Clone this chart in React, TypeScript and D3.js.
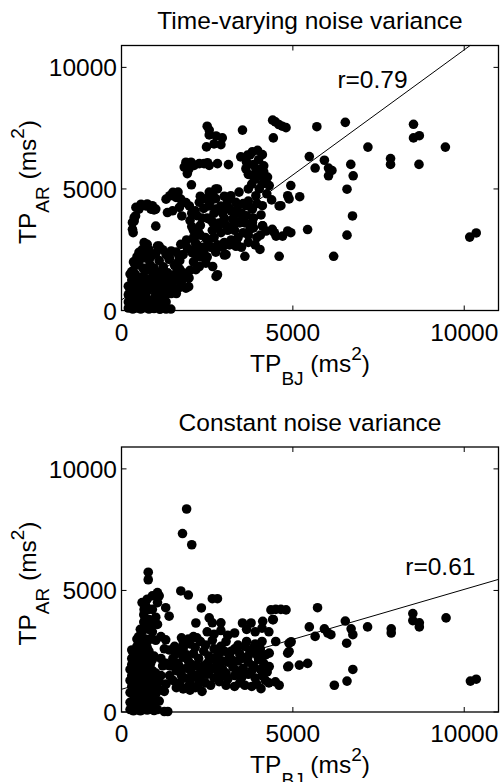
import React, { useEffect, useRef } from "react";
import * as d3 from "d3";

// TP_BJ vs TP_AR (ms^2)
const xTicks = [0, 5000, 10000];
const yTicks = [0, 5000, 10000];

const titles = ["Time-varying noise variance", "Constant noise variance"];
const rLabels = ["r=0.79", "r=0.61"];
const rAnchors: [number, number][] = [[6300, 9170], [8280, 5650]];
const fitIntercepts = [432, 934];
const fitSlopes = [1.029, 0.411];

const varyingPoints: [number, number][] = [
  // sparse right side
  [5700, 7560], [6530, 7740], [8520, 7660], [8520, 7100], [8690, 7190], [9450, 6720], [7190, 6720],
  [5480, 6330], [5920, 6180], [5650, 5860], [6040, 5860], [6140, 5760], [6040, 5540], [6690, 6010],
  [6760, 5540], [7850, 6250], [7850, 6010], [8680, 6010], [6580, 4990], [4940, 5140], [4890, 4590],
  [5200, 4680], [6740, 3890], [4940, 3200], [5430, 3330], [6580, 3100], [6190, 2230], [10160, 3020],
  [10350, 3190], [4600, 2230],
  // upper arc and top cluster
  [4410, 7830], [4490, 7760], [4590, 7650], [4690, 7580], [4800, 7520], [4430, 7100], [3530, 7420],
  [2500, 7580], [2560, 7420], [2560, 7220], [2760, 7180], [2940, 7100], [2480, 6730], [2700, 6850], [2900, 6820],
  [1830, 5900], [1880, 6100], [1970, 5830], [2030, 6100], [2120, 5970], [2270, 6040], [2410, 6040],
  [2510, 6080], [2560, 5970], [2800, 6040], [3120, 6000], [1920, 5630], [2040, 5170], [2800, 5000],
  // upper-middle cluster
  [3480, 6320], [3680, 6390], [3820, 6530], [3970, 6590], [4110, 6410], [3630, 5830], [3820, 5550],
  [3920, 5830], [4050, 5700], [4150, 5950], [4260, 5490], [4310, 5140], [4020, 5000], [3920, 4720],
  [4110, 4310], [3820, 4170], [3630, 4310], [3430, 4870], [3340, 4450], [3190, 4720], [3040, 4310],
  [4180, 5350], [4240, 4800], [4380, 4550], [4850, 4720], [4650, 4310], [4850, 3270], [4700, 3060],
  [4400, 3340], [4120, 3480], [4510, 3060], [4460, 3200], [4220, 3270], [4070, 3930], [4600, 4300],
  [4040, 2510], [3600, 2230], [3000, 2280], [3340, 2640], [3050, 2300],
  [3700, 5000], [3800, 5200], [3900, 5400], [4000, 5550], [4100, 5200], [3700, 5600], [3850, 6000],
  [4000, 6200], [4150, 5700], [3650, 6100], [3750, 6400],
  // main blob
  [2750, 5000], [2560, 4870], [2460, 4590], [2270, 4450], [2750, 4170], [2560, 3760], [2950, 3620],
  [3240, 3760], [3530, 3760], [3820, 3620], [4110, 3480], [2000, 3700], [2100, 3300], [2200, 3900],
  [2300, 3500], [2400, 4200], [2500, 3800], [2600, 4500], [2650, 3300], [2700, 4000], [2850, 3600],
  [2900, 4300], [3000, 3800], [3100, 4500], [3200, 4100], [3300, 3700], [3400, 4300], [3500, 4000],
  [3600, 3600], [3700, 4500], [3800, 4200], [1900, 2900], [2000, 2500], [2100, 3000], [2200, 2700],
  [2300, 3100], [2400, 2400], [2500, 2900], [2600, 2600], [2700, 3000], [2800, 2700], [2900, 3200],
  [3000, 2800], [3100, 3300], [3200, 2900], [3300, 3300], [3400, 3000], [3550, 3200], [3700, 3100],
  [3850, 3400], [3950, 3000],
  [2050, 3450], [2150, 4100], [2250, 3200], [2350, 3800], [2450, 3000], [2550, 4300], [2650, 3650],
  [2750, 4600], [2800, 3400], [2950, 4000], [3050, 3500], [3150, 4200], [3250, 3450], [3350, 4000],
  [3450, 3600], [3550, 4400], [3650, 3900], [3750, 3350], [3850, 3800], [3950, 4400], [2150, 2800],
  [2350, 2600], [2550, 2700], [2750, 2400], [2950, 2600], [3150, 2700], [3350, 2800], [3500, 2600],
  [3700, 2800], [3900, 2700], [4050, 3100], [2050, 4000], [2300, 4700], [2650, 4800], [3000, 4700],
  // lower middle
  [1880, 1400], [1960, 980], [2660, 1810], [2800, 1470], [2760, 1400], [2170, 1680], [1680, 2230],
  [2460, 1950], [2270, 1810], [2000, 1650], [2100, 2000], [2300, 2200], [2500, 2200], [2200, 2400],
  // left-middle cluster
  [1300, 4580], [1410, 4720], [1590, 4650], [1730, 4580], [1880, 4440], [1980, 4300], [1340, 4030],
  [1490, 4100], [1690, 4240], [1760, 3890], [1500, 4860], [1650, 4870],
  // left column
  [420, 4240], [570, 4370], [710, 4300], [860, 4170], [950, 4140], [370, 3820], [370, 3680],
  [320, 3340], [340, 3200], [1000, 3470], [510, 4170], [750, 4380], [900, 4310], [1000, 4170],
  [410, 3890], [320, 3620], [1050, 2650], [660, 2790], [610, 2510], [800, 2510], [750, 2720],
  [1100, 2650], [510, 2390], [1730, 2720], [1920, 2580], [2070, 2370], [2215, 2230], [1390, 2100],
  [1630, 1960], [1970, 1340], [1880, 920],
  // lower-left blob
  [200, 100], [330, 60], [450, 100], [560, 60], [680, 120], [800, 60], [950, 80], [1120, 50], [1300, 60], [1440, 60],
  [200, 350], [300, 450], [400, 300], [500, 500], [620, 350], [720, 550], [850, 400], [980, 550], [1150, 450], [1300, 350],
  [250, 800], [350, 650], [450, 950], [550, 750], [650, 1000], [750, 800], [870, 1100], [980, 850],
  [1080, 1050], [1250, 800], [1400, 1000], [1550, 900],
  [300, 1250], [400, 1500], [500, 1200], [620, 1400], [720, 1650], [830, 1300], [930, 1550],
  [1050, 1300], [1150, 1600], [1250, 1350], [1350, 1550], [1500, 1350], [1600, 1550],
  [400, 1850], [520, 2050], [620, 1750], [720, 2150], [830, 1900], [950, 1750], [1100, 2050],
  [1220, 1800], [1400, 2150], [1550, 1850], [1700, 2050],
  [250, 550], [350, 250], [550, 300], [700, 250], [900, 200], [1050, 250], [1200, 200], [300, 1000],
  [400, 1150], [500, 850], [600, 1150], [700, 1300], [800, 1000], [950, 1200], [1100, 1150],
  [1200, 1100], [1350, 1250], [1450, 1150], [1650, 1250], [1700, 1700], [1800, 1550], [1800, 2300],
  [1600, 2400], [1450, 2450], [1300, 2300], [1200, 2500], [1000, 2350], [850, 2200], [700, 2400],
  [550, 2250], [450, 2200], [350, 2000], [300, 1600], [250, 1500], [200, 1000], [200, 650],
  [1000, 700], [1150, 750], [1300, 650], [1450, 700], [1600, 700], [1700, 950], [1750, 1200],
];

const constantPoints: [number, number][] = [
  // sparse right side
  [5720, 4290], [5480, 3500], [5650, 3110], [5920, 3420], [6020, 3250], [6110, 3180], [6530, 3740],
  [6700, 3420], [6750, 3180], [6570, 2830], [6750, 1750], [6210, 1100], [6580, 1270], [7180, 3500],
  [7870, 3420], [7870, 3250], [8500, 4050], [8500, 3760], [8690, 3670], [8690, 3500], [9470, 3870],
  [10180, 1270], [10350, 1350], [4890, 2830], [4890, 2490], [5190, 1930], [5430, 2000], [4880, 1890],
  [4600, 1100], [4490, 1240], [4360, 4200], [4500, 4220], [4650, 4220], [4800, 4200], [4430, 3800],
  [4310, 2420], [4310, 1870], [4070, 960],
  // high outliers
  [1900, 8350], [1780, 7340], [2050, 6880], [1730, 4980], [1950, 4810],
  // middle
  [2330, 4280], [2650, 4660], [2800, 4660], [2170, 3660], [2560, 3870], [2650, 3670], [2900, 3670],
  [3530, 3660], [3780, 3660], [4120, 3730], [4410, 3800], [2500, 3300], [2700, 3200], [2900, 3350],
  [3100, 3150], [3300, 3250], [3650, 3400], [3900, 3300], [4100, 3450], [4300, 3300], [4500, 2900],
  [4950, 2890], [4850, 2420], [4850, 1860],
  // middle band
  [1400, 2550], [1550, 2700], [1700, 2500], [1800, 2800], [1950, 3000], [2100, 3100], [2200, 3050], [1750, 3050],
  [1500, 2200], [1650, 2000], [1800, 2250], [1950, 2100], [2100, 2400], [2250, 2200], [2400, 2500],
  [2550, 2300], [2700, 2600], [2850, 2400], [3000, 2500], [3150, 2300], [3300, 2600], [3450, 2400],
  [3600, 2700], [3750, 2500], [3900, 2800], [4050, 2600],
  [1600, 1700], [1750, 1500], [1900, 1800], [2050, 1600], [2200, 1900], [2350, 1700], [2500, 2000],
  [2650, 1800], [2800, 2000], [2950, 1750], [3100, 2050], [3250, 1850], [3400, 2100], [3550, 1800],
  [3700, 2050], [3850, 1900], [4000, 2150], [4150, 2000],
  [1500, 1300], [1700, 1200], [1850, 1400], [2000, 1250], [2150, 1450], [2300, 1350], [2500, 1550],
  [2700, 1400], [2900, 1500], [3100, 1350], [3300, 1500], [3500, 1400], [3700, 1550], [3900, 1400], [4100, 1500],
  [1800, 950], [1950, 1050], [2150, 1000], [2350, 850], [2600, 1100], [3050, 1100], [3300, 1050],
  [3600, 1100], [3800, 1050], [4300, 1200],
  [1450, 1900], [1600, 2400], [1700, 1850], [1800, 2600], [1900, 2350], [2000, 2800], [2050, 1950],
  [2150, 2650], [2250, 1550], [2300, 2900], [2400, 1900], [2450, 2750], [2550, 1650], [2600, 2150],
  [2650, 2950], [2750, 2250], [2800, 1700], [2900, 2700], [2950, 2100], [3050, 1600], [3050, 2900],
  [3200, 2500], [3250, 2100], [3350, 1700], [3400, 2750], [3500, 2200], [3550, 1550], [3650, 2900],
  [3700, 2300], [3800, 1700], [3850, 2650], [3950, 2350], [4050, 1750], [4100, 2900], [4200, 2350],
  [4250, 1650], [1600, 1000], [1750, 1750], [2000, 900], [2250, 1150], [2450, 1200], [2850, 1250],
  [3450, 1200], [3950, 1150], [4200, 1300],
  // left column
  [780, 5750], [780, 5440], [660, 4220], [800, 4220], [900, 4220], [750, 4640], [900, 4780], [1050, 4910],
  [1100, 4780], [1050, 4500], [1050, 3600], [1290, 4290], [1390, 3940], [1290, 2970], [1000, 2950], [690, 3800],
  [500, 3100], [600, 3300], [700, 3000], [800, 3400], [650, 3700], [750, 3500], [850, 3750],
  [300, 2550], [450, 2700], [550, 2600], [650, 2800], [750, 2650], [850, 3000],
  [300, 2200], [400, 2350], [500, 2150], [600, 2400], [700, 2250], [800, 2500], [950, 2300],
  [250, 1750], [350, 1650], [450, 1850], [550, 1700], [650, 1900], [750, 1750], [850, 2000],
  [250, 1300], [350, 1200], [450, 1400], [550, 1250], [650, 1450], [750, 1300], [850, 1500], [950, 1350], [1100, 1250],
  [250, 800], [350, 950], [450, 750], [550, 1000], [650, 850], [750, 1050], [850, 900], [950, 1000], [1100, 900], [1250, 850],
  [250, 400], [350, 500], [450, 350], [550, 600], [650, 450], [750, 550], [850, 400], [950, 500], [1100, 450],
  [250, 100], [350, 50], [450, 150], [550, 50], [650, 100], [750, 80], [850, 120], [950, 60], [1050, 100], [1250, 20], [1350, 20],
  [300, 300], [400, 600], [500, 250], [600, 800], [700, 350], [800, 700], [900, 250], [1000, 750],
  [300, 1050], [400, 850], [500, 1100], [600, 1150], [700, 650], [800, 1150], [900, 1100], [1000, 1150],
  [300, 1500], [400, 1300], [500, 1550], [600, 1600], [700, 1550], [800, 1650], [900, 1700], [1000, 1600],
  [300, 1950], [400, 2100], [500, 1900], [600, 2050], [700, 1950], [800, 2200], [900, 2150],
  [350, 2400], [450, 2450], [550, 2350], [650, 2550], [750, 2900], [600, 2950], [450, 3000],
  [550, 3400], [700, 3550], [800, 3800], [650, 4000], [700, 4400], [600, 4500], [900, 3300],
  [950, 3600], [1000, 3900], [1150, 3100], [1200, 900], [1150, 1500], [1200, 1900], [1150, 2200],
  [1250, 2600], [1300, 1150], [1400, 1500], [1400, 1900], [1300, 2000],
];

const panelPoints = [varyingPoints, constantPoints];

const App = () => {
  const ref = useRef<SVGSVGElement>(null);

  useEffect(() => {
    const svg = d3.select(ref.current);
    svg.selectAll("*").remove();
    svg.attr("font-family", "'Liberation Sans', Arial, sans-serif").attr("fill", "#000");

    const left = 121.5, right = 498.5, plotH = 265;
    const tops = [45.5, 447];
    const fs = 24.5;

    titles.forEach((title, p) => {
      const top = tops[p];
      const bottom = top + plotH;
      const x = d3.scaleLinear().domain([0, 11000]).range([left, right]);
      const y = d3.scaleLinear().domain([0, 10900]).range([bottom, top]);
      const g = svg.append("g");

      g.selectAll("circle")
        .data(panelPoints[p])
        .join("circle")
        .attr("cx", d => x(d[0]))
        .attr("cy", d => y(d[1]))
        .attr("r", 4.8)
        .attr("fill", "#000");

      // least squares fit line, cut at the top of the box
      const b = fitIntercepts[p], m = fitSlopes[p];
      const xEnd = Math.min(11000, (10900 - b) / m);
      const line = d3.line<number>().x(v => x(v)).y(v => y(b + m * v));
      g.append("path").attr("d", line([0, xEnd])).attr("stroke", "#000").attr("stroke-width", 1).attr("fill", "none");

      g.append("rect")
        .attr("x", left).attr("y", top).attr("width", right - left).attr("height", plotH)
        .attr("fill", "none").attr("stroke", "#000").attr("stroke-width", 1.3);

      const tl = 5;
      xTicks.forEach(t => {
        g.append("line").attr("x1", x(t)).attr("x2", x(t)).attr("y1", bottom).attr("y2", bottom - tl).attr("stroke", "#000");
        g.append("line").attr("x1", x(t)).attr("x2", x(t)).attr("y1", top).attr("y2", top + tl).attr("stroke", "#000");
        g.append("text").attr("x", x(t)).attr("y", bottom + 30).attr("text-anchor", "middle").attr("font-size", fs).text(t);
      });
      yTicks.forEach(t => {
        g.append("line").attr("x1", left).attr("x2", left + tl).attr("y1", y(t)).attr("y2", y(t)).attr("stroke", "#000");
        g.append("line").attr("x1", right).attr("x2", right - tl).attr("y1", y(t)).attr("y2", y(t)).attr("stroke", "#000");
        g.append("text").attr("x", 117).attr("y", y(t) + 9).attr("text-anchor", "end").attr("font-size", fs).text(t);
      });

      g.append("text").attr("x", (left + right) / 2).attr("y", top - 16.5)
        .attr("text-anchor", "middle").attr("font-size", fs).text(title);

      g.append("text").attr("x", x(rAnchors[p][0])).attr("y", y(rAnchors[p][1]))
        .attr("font-size", fs).text(rLabels[p]);

      const axisLabel = (el: any, sub: string) => {
        el.append("tspan").text("TP");
        el.append("tspan").attr("font-size", 19).attr("dy", 13).text(sub);
        el.append("tspan").attr("dy", -13).text(" (ms");
        el.append("tspan").attr("font-size", 19).attr("dy", -12).text("2");
        el.append("tspan").attr("dy", 12).text(")");
      };

      const xl = g.append("text").attr("x", (left + right) / 2).attr("y", bottom + 61)
        .attr("text-anchor", "middle").attr("font-size", fs);
      axisLabel(xl, "BJ");

      const yl = g.append("text").attr("transform", `translate(36,${(top + bottom) / 2 + 4}) rotate(-90)`)
        .attr("text-anchor", "middle").attr("font-size", fs);
      axisLabel(yl, "AR");
    });
  }, []);

  return <svg ref={ref} width={502} height={782} style={{ position: "absolute", left: 0, top: 0, background: "#fff" }} />;
};

export default App;
